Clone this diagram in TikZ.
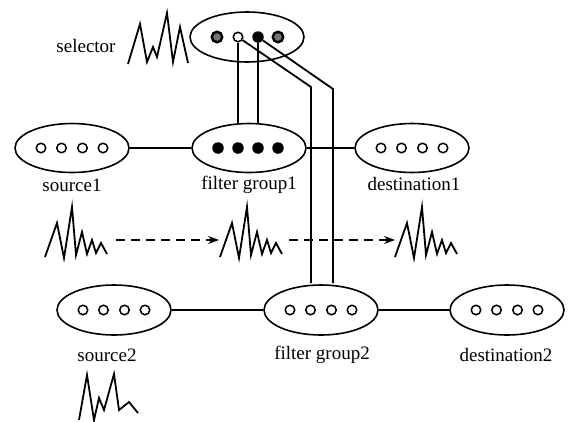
\documentclass[tikz,border=0pt]{standalone}
\usepackage{fontspec}
\setmainfont{Liberation Serif}
\usetikzlibrary{shapes.geometric,arrows.meta}
\tikzset{
  oval/.style={ellipse,draw,line width=1.6pt,minimum width=114pt,minimum height=49pt,inner sep=0pt},
  odot/.style={circle,draw,line width=1.5pt,fill=white,minimum size=9.5pt,inner sep=0pt},
  fdot/.style={circle,fill=black,minimum size=11.5pt,inner sep=0pt},
  gdot/.style={circle,draw,line width=2.4pt,fill=black!55,minimum size=10.5pt,inner sep=0pt},
  lbl/.style={font=\fontsize{19}{21}\selectfont,inner sep=0pt},
  thin/.style={line width=1.6pt},
  thick2/.style={line width=2.6pt},
  conn/.style={line width=1.8pt},
  wave/.style={line width=1.8pt,line join=miter},
  dasharrow/.style={line width=1.5pt,dash pattern=on 9pt off 6pt,-{Stealth[length=11pt,width=8pt]}},
  waveA/.pic={\draw[wave] (0,0) -- (12,-34) -- (19,1) -- (27,-50) -- (31,-2) -- (37,-25) -- (42,-3) -- (47,-17) -- (51,-4) -- (56,-14) -- (62,-3);},
  waveB/.pic={\draw[wave] (0,0) -- (8,-45) -- (15,0) -- (20,-22) -- (25,-10) -- (35,-46) -- (40,-10) -- (50,-18) -- (59,-7);},
  waveC/.pic={\draw[wave] (0,0) -- (12,-40) -- (19,-2) -- (25,-17) -- (29,-7) -- (39,-51) -- (45,-2) -- (52,-37) -- (60,-1);}
}
\begin{document}
\begin{tikzpicture}[x=1pt,y=-1pt]
\useasboundingbox (0,0) rectangle (568,421);
% selector
\node[oval,minimum height=50pt] (sel) at (247,37) {};
\node[gdot] (s1) at (217,37) {};
\node[odot] (s2) at (238,37) {};
\node[fdot] (s3) at (258,37) {};
\node[gdot] (s4) at (278,37) {};
\node[lbl] (sellbl) at (86,46) {selector};
\pic (wsel) at (128,64) {waveC};
% row 1
\node[oval] (src1) at (72,148) {};
\node[oval] (fg1) at (249,148) {};
\node[oval] (dst1) at (412,148) {};
\foreach \n in {src1,dst1}{
  \node[odot] (\n-a) at ([xshift=-31pt]\n.center) {};
  \node[odot] (\n-b) at ([xshift=-10.5pt]\n.center) {};
  \node[odot] (\n-c) at ([xshift=10.5pt]\n.center) {};
  \node[odot] (\n-d) at ([xshift=31pt]\n.center) {};
}
\node[fdot] (fg1-a) at (218,148) {};
\node[fdot] (fg1-b) at (238,148) {};
\node[fdot] (fg1-c) at (258,148) {};
\node[fdot] (fg1-d) at (278,148) {};
\node[lbl] (l1) at (72,185) {source1};
\node[lbl] (l2) at (249,185) {filter group1};
\node[lbl] (l3) at (414,184) {destination1};
% row 2
\node[oval,minimum height=50pt] (src2) at (114,310) {};
\node[oval,minimum height=50pt] (fg2) at (321,310) {};
\node[oval,minimum height=50pt] (dst2) at (507,310) {};
\foreach \n in {src2,fg2,dst2}{
  \node[odot] (\n-a) at ([xshift=-31pt]\n.center) {};
  \node[odot] (\n-b) at ([xshift=-10.5pt]\n.center) {};
  \node[odot] (\n-c) at ([xshift=10.5pt]\n.center) {};
  \node[odot] (\n-d) at ([xshift=31pt]\n.center) {};
}
\node[lbl] (l4) at (107,355) {source2};
\node[lbl] (l5) at (322,355) {filter group2};
\node[lbl] (l6) at (506,355) {destination2};
% connections
\draw[thin] (src1) -- (fg1);
\draw[thin] (fg1) -- (dst1);
\draw[thick2] (src2) -- (fg2);
\draw[thick2] (fg2) -- (dst2);
\coordinate (k1) at (311,87);
\coordinate (k2) at (333,89);
\draw[conn] (s2) -- (s2 |- fg1.north);
\draw[conn] (s3) -- (s3 |- fg1.north);
\draw[conn] (s2) -- (k1) -- ([yshift=1pt]k1 |- fg2.north);
\draw[conn] (s3) -- (k2) -- ([yshift=1pt]k2 |- fg2.north);
% waves and dashed arrows
\pic (w1) at (45,257) {waveA};
\pic (w2) at (220,257) {waveA};
\pic (w3) at (395,257) {waveA};
\pic (w4) at (79,420) {waveB};
\coordinate (a1s) at (116,240);
\coordinate (a1e) at (219,240);
\coordinate (a2s) at (289,240);
\coordinate (a2e) at (395,240);
\draw[dasharrow] (a1s) -- (a1e);
\draw[dasharrow] (a2s) -- (a2e);
\end{tikzpicture}
\end{document}
